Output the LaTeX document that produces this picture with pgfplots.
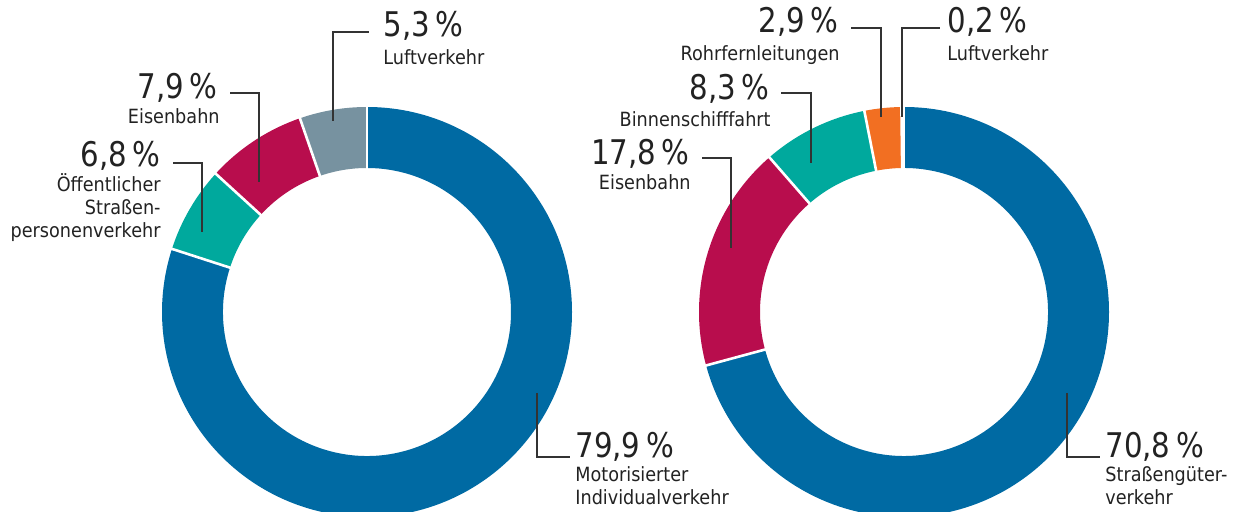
\documentclass[border=0pt]{standalone}
\usepackage{pgfplots}
\pgfplotsset{compat=1.18}
\usepackage{fontspec}
\setmainfont{DejaVu Sans}[FakeStretch=0.9]
\newfontfamily\numfont{DejaVu Sans}[FakeStretch=0.86]
\definecolor{cblue}{HTML}{006AA3}
\definecolor{cteal}{HTML}{00A99D}
\definecolor{cred}{HTML}{B80D4D}
\definecolor{cgray}{HTML}{7792A0}
\definecolor{corange}{HTML}{F26F22}
\definecolor{ctext}{HTML}{222222}
\definecolor{cline}{HTML}{333333}
% cx, cy, cumulative start, cumulative end, total, colour
\newcommand{\seg}[6]{%
  \fill[#6] (axis cs:{#1+205*cos(90-#3/#5*360)},{#2+205*sin(90-#3/#5*360)})
    arc[start angle={90-#3/#5*360}, end angle={90-#4/#5*360}, radius=205]
    -- (axis cs:{#1+144*cos(90-#4/#5*360)},{#2+144*sin(90-#4/#5*360)})
    arc[start angle={90-#4/#5*360}, end angle={90-#3/#5*360}, radius=144] -- cycle;}
\newcommand{\sep}[4]{%
  \draw[white, line width=1.3pt] (axis cs:{#1+140*cos(90-#3/#4*360)},{#2+140*sin(90-#3/#4*360)})
    -- (axis cs:{#1+209*cos(90-#3/#4*360)},{#2+209*sin(90-#3/#4*360)});}
\begin{document}
\begin{tikzpicture}[
  num/.style={font=\numfont\fontsize{17}{20}\selectfont, text=ctext, inner sep=0pt},
  lab/.style={font=\fontsize{9.8}{11.5}\selectfont, text=ctext, inner sep=0pt},
  lead/.style={draw=cline, line width=0.7pt}]
\begin{axis}[width=620.5pt, height=256pt, scale only axis,
  xmin=0, xmax=1241, ymin=0, ymax=512, hide axis, clip=true]
% left donut: 79.9, 6.8, 7.9, 5.3
\seg{367}{200}{0}{79.9}{99.9}{cblue}
\seg{367}{200}{79.9}{86.7}{99.9}{cteal}
\seg{367}{200}{86.7}{94.6}{99.9}{cred}
\seg{367}{200}{94.6}{99.9}{99.9}{cgray}
\sep{367}{200}{0}{99.9}
\sep{367}{200}{79.9}{99.9}
\sep{367}{200}{86.7}{99.9}
\sep{367}{200}{94.6}{99.9}
% right donut: 70.8, 17.8, 8.3, 2.9, 0.2
\seg{904}{200}{0}{70.8}{100}{cblue}
\seg{904}{200}{70.8}{88.6}{100}{cred}
\seg{904}{200}{88.6}{96.9}{100}{cteal}
\seg{904}{200}{96.9}{99.8}{100}{corange}
\seg{904}{200}{99.8}{100}{100}{cgray}
\sep{904}{200}{0}{100}
\sep{904}{200}{70.8}{100}
\sep{904}{200}{88.6}{100}
\sep{904}{200}{96.9}{100}
\sep{904}{200}{99.8}{100}
% left leaders and labels
\draw[lead] (axis cs:333,391) -- (axis cs:333,480) -- (axis cs:369,480);
\node[num, anchor=base west] at (axis cs:383,475) {5,3\,\%};
\node[lab, anchor=base west] at (axis cs:383,447) {Luftverkehr};
\draw[lead] (axis cs:259,330) -- (axis cs:259,419) -- (axis cs:230,419);
\node[num, anchor=base east] at (axis cs:218,413) {7,9\,\%};
\node[lab, anchor=base east] at (axis cs:220,388) {Eisenbahn};
\draw[lead] (axis cs:202,280) -- (axis cs:202,349) -- (axis cs:173,349);
\node[num, anchor=base east] at (axis cs:161,345) {6,8\,\%};
\node[lab, anchor=base east] at (axis cs:161,320) {Öffentlicher};
\node[lab, anchor=base east] at (axis cs:161,297) {Straßen-};
\node[lab, anchor=base east] at (axis cs:161,274) {personenverkehr};
\draw[lead] (axis cs:537,119) -- (axis cs:537,55) -- (axis cs:570,55);
\node[num, anchor=base west] at (axis cs:575,54) {79,9\,\%};
\node[lab, anchor=base west] at (axis cs:575,30) {Motorisierter};
\node[lab, anchor=base west] at (axis cs:575,7) {Individualverkehr};
% right leaders and labels
\draw[lead] (axis cs:902,395) -- (axis cs:902,484) -- (axis cs:940,484);
\node[num, anchor=base west] at (axis cs:947,479) {0,2\,\%};
\node[lab, anchor=base west] at (axis cs:947,451) {Luftverkehr};
\draw[lead] (axis cs:881,395) -- (axis cs:881,484) -- (axis cs:851,484);
\node[num, anchor=base east] at (axis cs:839,479) {2,9\,\%};
\node[lab, anchor=base east] at (axis cs:840,451) {Rohrfernleitungen};
\draw[lead] (axis cs:811,349) -- (axis cs:811,419) -- (axis cs:781,419);
\node[num, anchor=base east] at (axis cs:770,412) {8,3\,\%};
\node[lab, anchor=base east] at (axis cs:771,385) {Binnenschifffahrt};
\draw[lead] (axis cs:731,264) -- (axis cs:731,354) -- (axis cs:702,354);
\node[num, anchor=base east] at (axis cs:690,347) {17,8\,\%};
\node[lab, anchor=base east] at (axis cs:691,322) {Eisenbahn};
\draw[lead] (axis cs:1067,119) -- (axis cs:1067,55) -- (axis cs:1100,55);
\node[num, anchor=base west] at (axis cs:1105,54) {70,8\,\%};
\node[lab, anchor=base west] at (axis cs:1105,30) {Straßengüter-};
\node[lab, anchor=base west] at (axis cs:1105,7) {verkehr};
\end{axis}
\pgfresetboundingbox
\useasboundingbox (current axis.south west) rectangle (current axis.north east);
\end{tikzpicture}
\end{document}
